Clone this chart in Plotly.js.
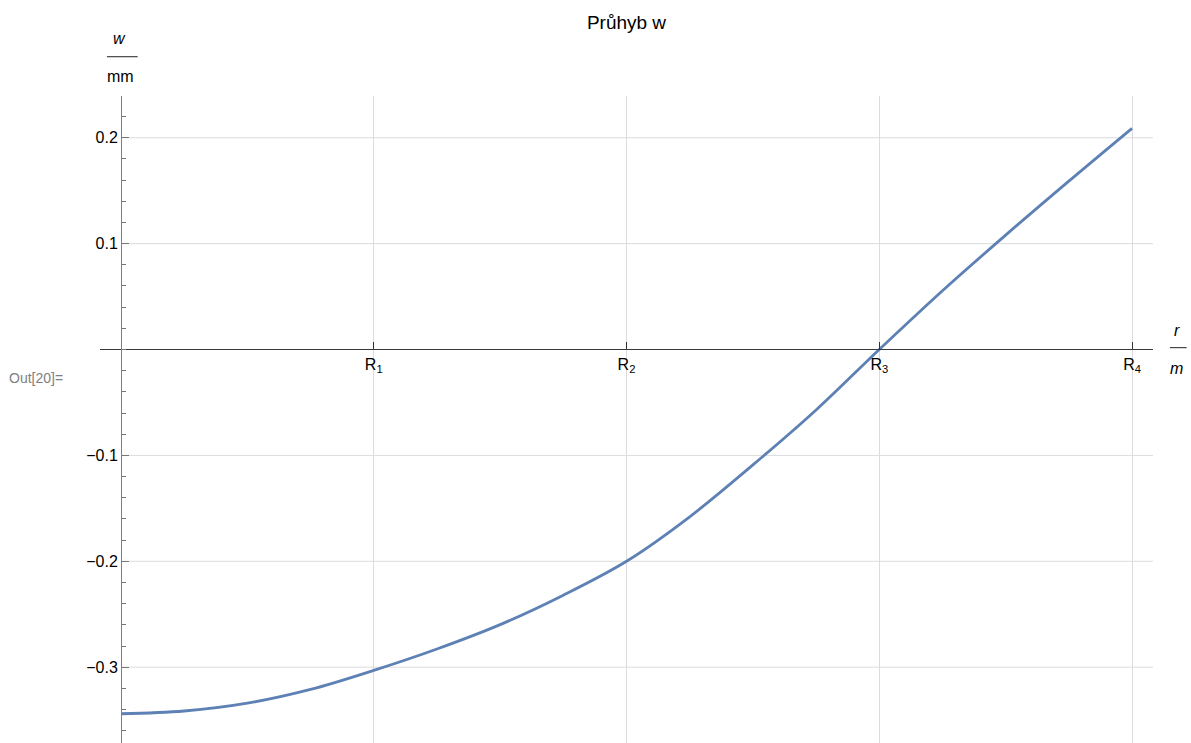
<!DOCTYPE html>
<html>
<head>
<meta charset="utf-8">
<script src="https://cdn.plot.ly/plotly-3.0.1.min.js"></script>
<style>html,body{margin:0;padding:0;background:#fff;}#chart{width:1191px;height:743px;}</style>
</head>
<body>
<div id="chart"></div>
<script>
// Data (r in units of R, w in mm)
const rValues = [0, 0.25, 0.5, 0.75, 1, 1.25, 1.5, 1.75, 2, 2.25, 2.5, 2.75, 3, 3.25, 3.5, 3.75, 4];
const wValues = [-0.3440, -0.3414, -0.3340, -0.3210, -0.3030, -0.2828, -0.2598, -0.2320, -0.2000, -0.1580, -0.1090, -0.0571, 0, 0.0555, 0.1080, 0.1590, 0.2089];

const xTickVals = [1, 2, 3, 4];
const xTickText = ['R<sub>1</sub>', 'R<sub>2</sub>', 'R<sub>3</sub>', 'R<sub>4</sub>'];
const yTickVals = [-0.3, -0.2, -0.1, 0.1, 0.2];
const yTickText = ['\u22120.3', '\u22120.2', '\u22120.1', '0.1', '0.2'];
const yGridVals = [-0.3, -0.2, -0.1, 0.1, 0.2];

const xRange = [-0.0831, 4.083];
const yRange = [-0.3716, 0.2394];

const FONT = '"Liberation Sans", Arial, Helvetica, sans-serif';

const trace = {
  x: rValues, y: wValues, type: 'scatter', mode: 'lines',
  line: {color: '#5E81B5', width: 2.8, shape: 'spline', smoothing: 1.0},
  hoverinfo: 'skip'
};

const shapes = yGridVals.map(v => ({
  type: 'line', xref: 'x', yref: 'y', x0: 0, x1: xRange[1], y0: v, y1: v,
  line: {color: '#dcdcdc', width: 1}, layer: 'below'
}));
// fraction bars of the axis labels
shapes.push({type: 'line', xref: 'paper', yref: 'paper', x0: 0.0066, x1: 0.0358, y0: 1.0607, y1: 1.0607, line: {color: '#222', width: 1}});
shapes.push({type: 'line', xref: 'paper', yref: 'paper', x0: 1.0161, x1: 1.0320, y0: 0.6110, y1: 0.6110, line: {color: '#222', width: 1}});

const layout = {
  width: 1191, height: 743,
  margin: {l: 100, r: 38, t: 96, b: 0, pad: 0},
  paper_bgcolor: '#fff', plot_bgcolor: '#fff',
  showlegend: false,
  font: {family: FONT, size: 16, color: '#000'},
  title: {text: 'Průhyb w', font: {family: FONT, size: 19, color: '#000'}, x: 0.5, xref: 'paper', y: 0.970, yref: 'container', yanchor: 'middle'},
  xaxis: {
    range: xRange, anchor: 'free', position: 0.6082,
    tickmode: 'array', tickvals: xTickVals, ticktext: xTickText,
    ticks: 'inside', ticklen: 7, tickwidth: 1, tickcolor: '#333',
    showline: true, linecolor: '#3a3a3a', linewidth: 1,
    showgrid: true, gridcolor: '#dcdcdc', gridwidth: 1,
    zeroline: false, tickfont: {family: FONT, size: 16, color: '#000'}
  },
  yaxis: {
    range: yRange, anchor: 'free', position: 0.01994,
    tickmode: 'array', tickvals: yTickVals, ticktext: yTickText,
    ticks: 'inside', ticklen: 7, tickwidth: 1, tickcolor: '#777',
    minor: {tickmode: 'linear', tick0: 0, dtick: 0.02, ticks: 'inside', ticklen: 4, tickwidth: 1, tickcolor: '#777', showgrid: false},
    showline: true, linecolor: '#808080', linewidth: 1.5,
    showgrid: false, zeroline: false, tickfont: {family: FONT, size: 16, color: '#000'}
  },
  shapes: shapes,
  annotations: [
    {xref: 'paper', yref: 'paper', x: 0.0183, y: 1.0892, text: '<i>w</i>', showarrow: false, font: {family: FONT, size: 16, color: '#000'}, xanchor: 'center', yanchor: 'middle'},
    {xref: 'paper', yref: 'paper', x: 0.0197, y: 1.0298, text: 'mm', showarrow: false, font: {family: FONT, size: 16, color: '#000'}, xanchor: 'center', yanchor: 'middle'},
    {xref: 'paper', yref: 'paper', x: 1.0225, y: 0.6383, text: '<i>r</i>', showarrow: false, font: {family: FONT, size: 16, color: '#000'}, xanchor: 'center', yanchor: 'middle'},
    {xref: 'paper', yref: 'paper', x: 1.0225, y: 0.5791, text: '<i>m</i>', showarrow: false, font: {family: FONT, size: 16, color: '#000'}, xanchor: 'center', yanchor: 'middle'},
    {xref: 'paper', yref: 'paper', x: -0.0883, y: 0.5641, text: 'Out[20]=', showarrow: false, font: {family: FONT, size: 14, color: '#808080'}, xanchor: 'left', yanchor: 'middle'}
  ]
};

Plotly.newPlot('chart', [trace], layout, {displayModeBar: false, staticPlot: true});
</script>
</body>
</html>
